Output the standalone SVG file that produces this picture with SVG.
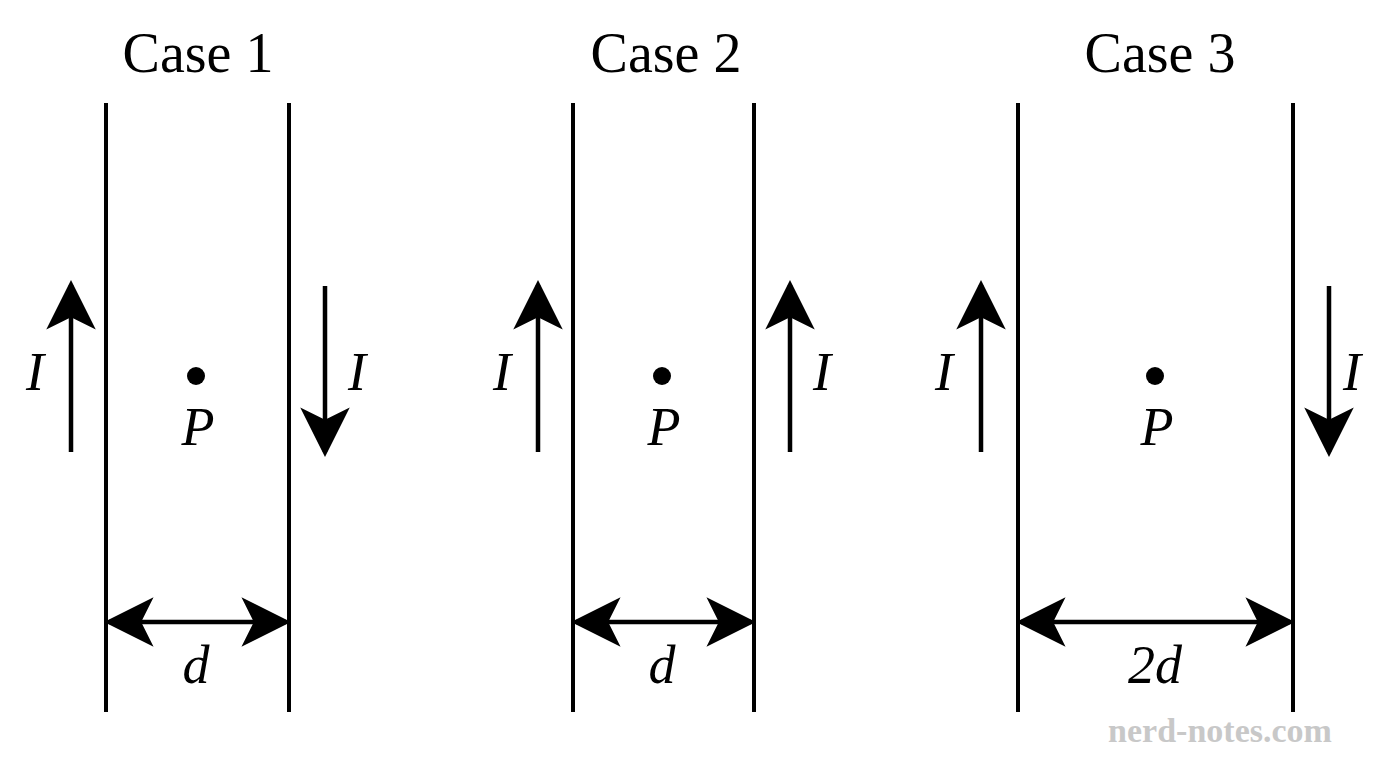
<svg xmlns="http://www.w3.org/2000/svg" width="1376" height="768" viewBox="0 0 1376 768">
<style>
.w{stroke:#000;stroke-width:4;fill:none}
.a{stroke:#000;stroke-width:4.5;fill:none}
.t{font-family:"Liberation Serif",serif;font-size:56px;text-anchor:middle;fill:#000}
.i{font-family:"Liberation Serif",serif;font-style:italic;font-size:54px;text-anchor:middle;fill:#000}
</style>
<defs>
<marker id="h" viewBox="0 0 10 10" refX="9" refY="5" markerWidth="8" markerHeight="8" markerUnits="userSpaceOnUse" orient="auto-start-reverse"><path d="M0,0 L10,5 L0,10 L2.5,5 z" fill="#000"/></marker>
<marker id="hb" viewBox="0 0 10 10" refX="9" refY="5" markerWidth="11" markerHeight="11" orient="auto-start-reverse"><path d="M0,0 L10,5 L0,10 L2.5,5 z" fill="#000"/></marker>
</defs>
<rect width="1376" height="768" fill="#fff"/>
<g id="case1">
<text class="t" x="198" y="72">Case 1</text>
<line class="w" x1="106" y1="103" x2="106" y2="712"/>
<line class="w" x1="289" y1="103" x2="289" y2="712"/>
<circle cx="196" cy="376" r="9"/>
<text class="i" x="198" y="445">P</text>
<text class="i" x="35" y="390">I</text>
<text class="i" x="357" y="390">I</text>
<text class="i" x="196" y="683">d</text>
</g>
<g id="case2">
<text class="t" x="666" y="72">Case 2</text>
<line class="w" x1="573" y1="103" x2="573" y2="712"/>
<line class="w" x1="754" y1="103" x2="754" y2="712"/>
<circle cx="662" cy="376" r="9"/>
<text class="i" x="664" y="445">P</text>
<text class="i" x="502" y="390">I</text>
<text class="i" x="822" y="390">I</text>
<text class="i" x="662" y="683">d</text>
</g>
<g id="case3">
<text class="t" x="1160" y="72">Case 3</text>
<line class="w" x1="1018" y1="103" x2="1018" y2="712"/>
<line class="w" x1="1293" y1="103" x2="1293" y2="712"/>
<circle cx="1155" cy="376" r="9"/>
<text class="i" x="1157" y="445">P</text>
<text class="i" x="944" y="390">I</text>
<text class="i" x="1352" y="390">I</text>
<text class="i" x="1155" y="683">2d</text>
</g>
<g id="connectors">
<line class="a" x1="71" y1="452" x2="71" y2="285" marker-end="url(#hb)"/>
<line class="a" x1="325" y1="286" x2="325" y2="452" marker-end="url(#hb)"/>
<line class="a" x1="538" y1="452" x2="538" y2="285" marker-end="url(#hb)"/>
<line class="a" x1="790" y1="452" x2="790" y2="285" marker-end="url(#hb)"/>
<line class="a" x1="981" y1="452" x2="981" y2="285" marker-end="url(#hb)"/>
<line class="a" x1="1329" y1="286" x2="1329" y2="452" marker-end="url(#hb)"/>
<line class="a" x1="109" y1="622" x2="286" y2="622" marker-start="url(#hb)" marker-end="url(#hb)"/>
<line class="a" x1="576" y1="622" x2="751" y2="622" marker-start="url(#hb)" marker-end="url(#hb)"/>
<line class="a" x1="1021" y1="622" x2="1290" y2="622" marker-start="url(#hb)" marker-end="url(#hb)"/>
</g>
<text x="1220" y="742" font-family="Liberation Serif,serif" font-size="34" font-weight="bold" fill="#c8c8c8" text-anchor="middle">nerd-notes.com</text>
</svg>
